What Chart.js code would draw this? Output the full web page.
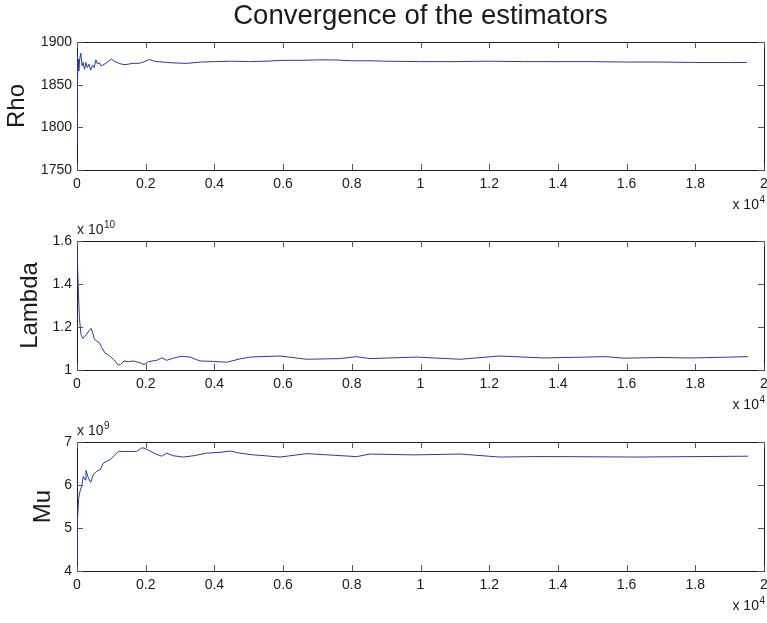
<!DOCTYPE html>
<html>
<head>
<meta charset="utf-8">
<script src="https://cdn.jsdelivr.net/npm/chart.js@4/dist/chart.umd.min.js"></script>
<style>
  html, body { margin: 0; padding: 0; background: #fff; overflow: hidden; }
  body { width: 767px; height: 623px; position: relative; }
  canvas { position: absolute; left: 0; }
</style>
</head>
<body>
<canvas id="c1" width="767" height="220" style="top:0px"></canvas>
<canvas id="c2" width="767" height="200" style="top:220px"></canvas>
<canvas id="c3" width="767" height="203" style="top:420px"></canvas>
<script>
// ---------------- DATA ----------------
const chartTitle = 'Convergence of the estimators';
const panelLabels = ['Rho', 'Lambda', 'Mu'];
const xTickValues = [0, 2000, 4000, 6000, 8000, 10000, 12000, 14000, 16000, 18000, 20000];
const xExponent = '4';

const rhoIter = [0, 5, 15, 30, 50, 80, 110, 150, 180, 220, 260, 300, 350, 400, 450, 500, 550, 600, 650, 700, 800, 900, 1000, 1100, 1200, 1300, 1400, 1500, 1600, 1800, 1900, 2100, 2300, 2500, 2800, 3200, 3600, 4000, 4500, 5000, 5500, 6000, 6500, 7000, 7500, 8000, 8500, 9000, 10000, 11000, 12000, 13000, 14000, 15000, 16000, 17000, 18000, 19000, 19500];
const rhoValues = [1780, 1885, 1845, 1880, 1866, 1880, 1887, 1872, 1876, 1868, 1876, 1870, 1874, 1867, 1873, 1870, 1879, 1874, 1876, 1872, 1874, 1877, 1880, 1877, 1875.5, 1874, 1873.5, 1874, 1875, 1875, 1876, 1879.5, 1877, 1876.5, 1875.5, 1875, 1876.5, 1877, 1877.5, 1877, 1877.5, 1878.5, 1878.5, 1879, 1879, 1878, 1878, 1877.5, 1877, 1877, 1877.5, 1877, 1877, 1877, 1876.5, 1876.5, 1876, 1876, 1876];
const rhoTicks = [1750, 1800, 1850, 1900];

const lambdaIter = [0, 40, 70, 115, 165, 235, 280, 360, 410, 455, 505, 570, 650, 720, 815, 910, 1060, 1200, 1270, 1370, 1500, 1640, 1830, 1950, 2080, 2320, 2470, 2610, 2800, 3050, 3290, 3580, 3970, 4360, 4750, 5040, 5330, 5910, 6690, 7660, 8140, 8530, 9890, 11150, 12310, 13580, 15420, 15900, 16970, 17940, 19540];
const lambdaValues = [1.569, 1.367, 1.243, 1.166, 1.147, 1.158, 1.166, 1.185, 1.194, 1.174, 1.143, 1.135, 1.127, 1.104, 1.080, 1.070, 1.050, 1.023, 1.026, 1.042, 1.039, 1.042, 1.034, 1.026, 1.039, 1.045, 1.057, 1.045, 1.055, 1.064, 1.060, 1.042, 1.040, 1.036, 1.052, 1.060, 1.062, 1.065, 1.050, 1.053, 1.062, 1.053, 1.060, 1.050, 1.065, 1.056, 1.062, 1.055, 1.058, 1.056, 1.062];
const lambdaTicks = [1, 1.2, 1.4, 1.6];
const lambdaExponent = '10';

const muIter = [0, 5, 20, 49, 87, 136, 184, 233, 262, 330, 398, 475, 572, 670, 767, 864, 961, 1106, 1203, 1349, 1543, 1737, 1882, 1950, 2077, 2271, 2465, 2610, 2805, 3096, 3387, 3775, 4163, 4454, 4745, 5133, 5330, 5910, 6690, 8140, 8530, 9840, 11150, 12310, 13280, 14060, 16290, 19540];
const muValues = [4.2, 5.03, 5.19, 5.69, 5.85, 5.97, 6.20, 6.12, 6.34, 6.16, 6.06, 6.24, 6.32, 6.35, 6.51, 6.55, 6.59, 6.70, 6.78, 6.78, 6.78, 6.78, 6.86, 6.86, 6.81, 6.73, 6.67, 6.74, 6.68, 6.65, 6.68, 6.74, 6.76, 6.79, 6.74, 6.70, 6.69, 6.65, 6.73, 6.66, 6.72, 6.70, 6.72, 6.65, 6.66, 6.66, 6.65, 6.67];
const muTicks = [4, 5, 6, 7];
const muExponent = '9';

// ---------------- STYLE ----------------
const FONT = "'Liberation Sans', Arial, Helvetica, sans-serif";
const LINE_COLOR = '#2a3aa0';
const TEXT_COLOR = '#1a1a1a';
const BORDER_COLOR = '#1e1e1e';
const TICK_COLOR = '#555555';
Chart.defaults.font.family = FONT;
Chart.defaults.color = TEXT_COLOR;

function fmt(v) { return String(parseFloat(v.toFixed(3))); }

// Inward tick marks on all four sides (placed by the chart's own scales)
// and MATLAB-style exponent labels.
function makeOverlay(yTickList, yExp) {
  return {
    id: 'overlay',
    afterDraw(chart) {
      const ctx = chart.ctx, ca = chart.chartArea;
      const len = 6;
      const xs = chart.scales.x;
      const ys = chart.scales.y;
      const top = Math.round(ca.top), bottom = Math.round(ca.bottom);
      const left = Math.round(ca.left), right = Math.round(ca.right);
      ctx.save();
      ctx.strokeStyle = TICK_COLOR;
      ctx.lineWidth = 1;
      xTickValues.forEach(v => {
        const p = Math.round(xs.getPixelForValue(v)) + 0.5;
        ctx.beginPath();
        ctx.moveTo(p, bottom); ctx.lineTo(p, bottom - len);
        ctx.moveTo(p, top); ctx.lineTo(p, top + len);
        ctx.stroke();
      });
      yTickList.forEach(v => {
        const p = Math.round(ys.getPixelForValue(v)) + 0.5;
        ctx.beginPath();
        ctx.moveTo(left, p); ctx.lineTo(left + len, p);
        ctx.moveTo(right, p); ctx.lineTo(right - len, p);
        ctx.stroke();
      });

      ctx.fillStyle = TEXT_COLOR;
      ctx.textBaseline = 'alphabetic';
      ctx.textAlign = 'left';
      ctx.font = '10px ' + FONT;
      const sw = ctx.measureText(xExponent).width;
      const rx = 765;
      const base = ca.bottom + 39;
      ctx.fillText(xExponent, rx - sw, base - 6);
      ctx.font = '14px ' + FONT;
      ctx.textAlign = 'right';
      ctx.fillText('x 10', rx - sw - 0.5, base);
      if (yExp) {
        const b2 = ca.top - 7;
        ctx.font = '14px ' + FONT;
        ctx.textAlign = 'left';
        const mw = ctx.measureText('x 10').width;
        ctx.fillText('x 10', ca.left, b2);
        ctx.font = '10px ' + FONT;
        ctx.fillText(yExp, ca.left + mw + 0.5, b2 - 6);
      }
      ctx.restore();
    }
  };
}

function makeChart(id, cfg) {
  const ticksX = { stepSize: 2000, padding: 6, maxRotation: 0, autoSkip: false,
                   font: { size: 14 }, color: TEXT_COLOR, callback: v => fmt(v / 1e4) };
  const gridCommon = { display: false, drawOnChartArea: false, drawTicks: false };
  const borderCommon = { display: true, color: BORDER_COLOR, width: 1 };
  const yStep = cfg.yTicks[1] - cfg.yTicks[0];
  const yMin = cfg.yTicks[0], yMax = cfg.yTicks[cfg.yTicks.length - 1];
  const data = cfg.iter.map((x, i) => ({ x: x, y: cfg.values[i] }));
  return new Chart(document.getElementById(id), {
    type: 'line',
    data: { datasets: [{ data: data, borderColor: LINE_COLOR, borderWidth: 1, pointRadius: 0, tension: 0, fill: false }] },
    plugins: [makeOverlay(cfg.yTicks, cfg.yExp)],
    options: {
      responsive: false, animation: false, devicePixelRatio: 1,
      layout: { padding: { left: cfg.padLeft, right: 3, top: cfg.padTop, bottom: cfg.padBottom } },
      plugins: {
        legend: { display: false }, tooltip: { enabled: false },
        title: cfg.title ? { display: true, text: cfg.title, fullSize: false, color: TEXT_COLOR,
                 font: { size: 27.5, weight: 'normal', lineHeight: 1.2 }, padding: { top: 0, bottom: 9 } } : { display: false }
      },
      scales: {
        x: { type: 'linear', position: 'bottom', min: xTickValues[0], max: xTickValues[xTickValues.length - 1],
             ticks: ticksX, grid: gridCommon, border: borderCommon,
             afterFit: s => { s.height = 30; s.paddingLeft = 0; s.paddingRight = 0; } },
        x2: { type: 'linear', position: 'top', min: xTickValues[0], max: xTickValues[xTickValues.length - 1],
              ticks: { display: false, stepSize: 2000 }, grid: gridCommon, border: borderCommon,
              afterFit: s => { s.height = 0; s.paddingLeft = 0; s.paddingRight = 0; } },
        y: { type: 'linear', position: 'left', min: yMin, max: yMax,
             ticks: { stepSize: yStep, padding: 5, font: { size: 14 }, color: TEXT_COLOR, callback: v => fmt(v) },
             grid: gridCommon, border: borderCommon,
             title: { display: true, text: cfg.label, color: TEXT_COLOR, font: { size: 24, lineHeight: 1 }, padding: 0 },
             afterFit: s => { s.width = 77 - cfg.padLeft; s.paddingTop = 0; s.paddingBottom = 0; } },
        y2: { type: 'linear', position: 'right', min: yMin, max: yMax,
              ticks: { display: false, stepSize: yStep }, grid: gridCommon, border: borderCommon,
              afterFit: s => { s.width = 0; s.paddingTop = 0; s.paddingBottom = 0; } }
      }
    }
  });
}

makeChart('c1', { iter: rhoIter, values: rhoValues, yTicks: rhoTicks, label: panelLabels[0], title: chartTitle,
                  padLeft: 5, padTop: 0, padBottom: 20 });
makeChart('c2', { iter: lambdaIter, values: lambdaValues, yTicks: lambdaTicks, label: panelLabels[1], yExp: lambdaExponent,
                  padLeft: 18, padTop: 21, padBottom: 20 });
makeChart('c3', { iter: muIter, values: muValues, yTicks: muTicks, label: panelLabels[2], yExp: muExponent,
                  padLeft: 31, padTop: 22, padBottom: 22 });
</script>
</body>
</html>
